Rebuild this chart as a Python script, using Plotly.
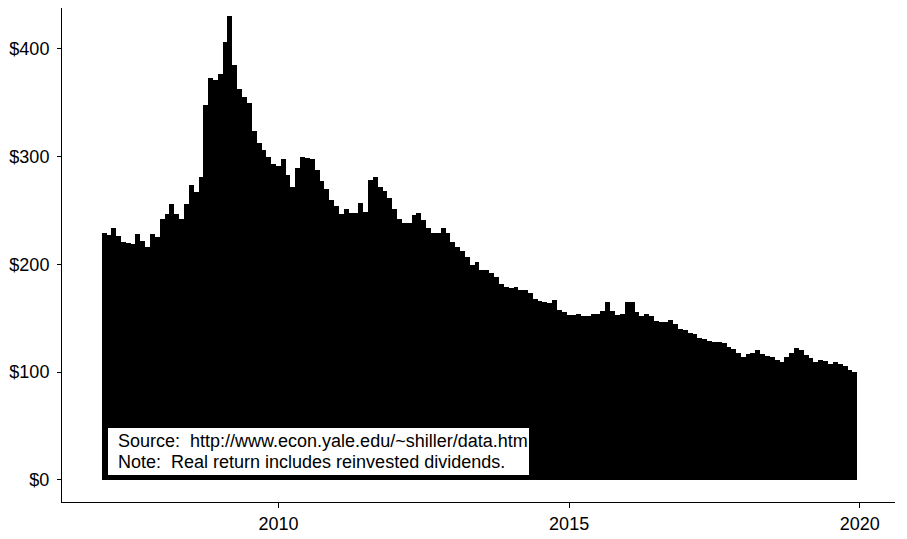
import pandas as pd
import plotly.graph_objects as go

# Monthly dates Jan 2007 .. Dec 2019
months = pd.date_range("2007-01-01", "2019-12-01", freq="MS")

# Real value (US$), one per month
values = [
    229, 227, 234, 226, 221, 220, 219, 228, 222, 216, 228, 225,   # 2007
    242, 247, 256, 247, 242, 256, 274, 267, 281, 348, 373, 371,   # 2008
    377, 406, 431, 385, 363, 355, 350, 324, 313, 306, 300, 293,   # 2009
    291, 298, 283, 272, 289, 300, 299, 298, 288, 277, 270, 260,   # 2010
    254, 247, 251, 248, 248, 257, 249, 278, 281, 272, 268, 262,   # 2011
    251, 242, 238, 238, 246, 248, 241, 234, 229, 229, 234, 229,   # 2012
    221, 216, 212, 207, 199, 202, 195, 195, 192, 188, 182, 179,   # 2013
    178, 179, 176, 176, 173, 168, 166, 165, 164, 167, 158, 156,   # 2014
    153, 153, 154, 152, 152, 154, 154, 157, 165, 157, 153, 154,   # 2015
    165, 165, 156, 152, 154, 152, 147, 146, 146, 148, 145, 140,   # 2016
    139, 136, 135, 132, 131, 129, 128, 128, 127, 123, 121, 118,   # 2017
    114, 117, 118, 120, 117, 115, 114, 111, 109, 114, 118, 122,   # 2018
    120, 116, 113, 109, 111, 110, 107, 109, 107, 106, 102, 100,   # 2019
]

y_tickvals = [0, 100, 200, 300, 400]
y_ticktext = ["$0", "$100", "$200", "$300", "$400"]
x_tickvals = ["2010-01-01", "2015-01-01", "2020-01-01"]
x_ticktext = ["2010", "2015", "2020"]

note_lines = [
    "Source:\u00a0 http://www.econ.yale.edu/~shiller/data.htm",
    "Note:\u00a0 Real return includes reinvested dividends.",
]

# slightly over one month so that adjacent bars touch with no gaps
bar_ms = 31 * 86400000

fig = go.Figure(
    go.Bar(
        x=months,
        y=values,
        width=[bar_ms] * len(values),
        marker=dict(color="black", line=dict(width=0)),
        hoverinfo="x+y",
    )
)

FONT = "Liberation Sans, Arial, Helvetica, sans-serif"

# The page body has an 8px default margin, so the figure is sized to sit
# inside the 907x539 window starting at (8, 8).
fig.update_layout(
    width=891,
    height=527,
    margin=dict(l=54, r=4, t=0, b=33, autoexpand=False),
    paper_bgcolor="white",
    plot_bgcolor="white",
    showlegend=False,
    bargap=0,
    font=dict(family=FONT, color="black"),
)

fig.update_xaxes(
    type="date",
    automargin=False,
    range=["2006-04-11", "2020-08-10"],
    tickvals=x_tickvals,
    ticktext=x_ticktext,
    showgrid=False,
    zeroline=False,
    showline=True,
    linecolor="black",
    linewidth=1,
    ticks="outside",
    ticklen=5,
    tickcolor="black",
    tickfont=dict(size=18, color="black", family=FONT),
)

fig.update_yaxes(
    automargin=False,
    range=[-20.7, 438],
    tickvals=y_tickvals,
    ticktext=y_ticktext,
    showgrid=False,
    zeroline=False,
    showline=True,
    linecolor="black",
    linewidth=1,
    ticks="outside",
    ticklen=4,
    tickcolor="black",
    ticklabelstandoff=4,
    tickfont=dict(size=18, color="black", family=FONT),
)

# White label box with the source note (positions in page pixels mapped to
# the plot area, which spans x 62..895 and y 8..502 on the page)
fig.add_shape(
    type="rect", xref="paper", yref="paper",
    x0=(108 - 62) / 833, x1=(529 - 62) / 833,
    y0=(502 - 475) / 494, y1=(502 - 428) / 494,
    fillcolor="white", line=dict(width=0), layer="above",
)
for line, ypix in zip(note_lines, [441, 462]):
    fig.add_annotation(
        xref="paper", yref="paper",
        x=(116 - 62) / 833, y=(502 - ypix) / 494,
        xanchor="left", yanchor="middle",
        text=line, showarrow=False, align="left",
        font=dict(size=18, color="black", family=FONT),
    )

fig.write_html("out.html")
